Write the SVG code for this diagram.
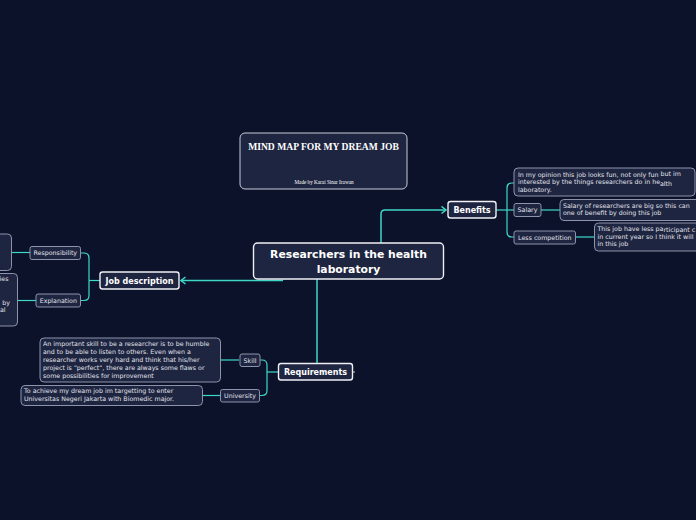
<svg xmlns="http://www.w3.org/2000/svg" width="696" height="520" viewBox="0 0 696 520">
<defs>
<style>
.bg{fill:#0b1229}
.main{fill:#1e2540;stroke:#f0f0f5;stroke-width:1.4}
.sub{fill:#1e2540;stroke:#8d93aa;stroke-width:1}
.title{fill:#1e2540;stroke:#c8ccd8;stroke-width:1}
.bt{font-family:"DejaVu Sans",Verdana,sans-serif;font-weight:bold;fill:#ffffff;text-anchor:middle}
.st{font-family:"DejaVu Sans",Verdana,sans-serif;font-size:6.3px;fill:#e2e4ec}
.lab{text-anchor:middle}
.con{fill:none;stroke:#3fd8c8;stroke-width:1.5}
.con2{fill:none;stroke:#3fd8c8;stroke-width:1.2}
.serif{font-family:"Liberation Serif","Times New Roman",serif;fill:#ffffff;text-anchor:middle}
</style>
<marker id="arr" markerUnits="userSpaceOnUse" markerWidth="8" markerHeight="10" refX="5.5" refY="4" orient="auto">
<path d="M1,0.5 L5.5,4 L1,7.5" fill="none" stroke="#3fd8c8" stroke-width="1.5"/>
</marker>
</defs>
<rect class="bg" x="0" y="0" width="696" height="520"/>

<g id="connectors">
<path class="con" d="M381,243 V214 Q381,210 385,210 H446" marker-end="url(#arr)"/>
<path class="con" d="M283,280.5 H181" marker-end="url(#arr)"/>
<path class="con" d="M317,279 V363"/>
<path class="con2" d="M496,210 H514"/>
<path class="con2" d="M507,210 V188 Q507,183 512,183 H514"/>
<path class="con2" d="M507,210 V232 Q507,237 512,237 H514"/>
<path class="con2" d="M541,210 H560"/>
<path class="con2" d="M575,237 H594"/>
<path class="con2" d="M100,280.5 H89"/>
<path class="con2" d="M89,280.5 V258 Q89,253 84,253 H81"/>
<path class="con2" d="M89,280.5 V295.5 Q89,300.5 84,300.5 H81"/>
<path class="con2" d="M30,252.5 H12"/>
<path class="con2" d="M36,300.5 H18"/>
<path class="con2" d="M278,372 H267"/>
<path class="con2" d="M267,372 V365 Q267,360 262,360 H260"/>
<path class="con2" d="M267,372 V390.5 Q267,395.5 262,395.5 H260"/>
<path class="con2" d="M239,360 H221"/>
<path class="con2" d="M220,395.5 H203"/>
<path d="M352.5,372 H355" stroke="#c8ccd8" stroke-width="1"/>
</g>

<g id="title">
<rect class="title" x="240" y="133" width="167" height="56" rx="5"/>
<text class="serif" x="323.5" y="150" font-size="9.6" font-weight="bold">MIND MAP FOR MY DREAM JOB</text>
<text class="serif" x="324" y="183.5" font-size="5.2">Made by Karai Sinar Irawan</text>
</g>

<g id="central">
<rect class="main" x="253.5" y="243" width="190" height="36" rx="4"/>
<text class="bt" x="348.5" y="258" font-size="10.8">Researchers in the health</text>
<text class="bt" x="348.5" y="272.5" font-size="10.8">laboratory</text>
</g>

<g id="benefits">
<rect class="main" x="448" y="201.5" width="48" height="16.5" rx="2.5"/>
<text class="bt" x="472" y="212.8" font-size="8">Benefits</text>
</g>

<g id="benefits-opinion">
<rect class="sub" x="514" y="168" width="181" height="28" rx="4"/>
<text class="st" x="518" y="176.5">In my opinion this job looks fun, not only fun <tspan dy="-0.8">but im</tspan></text>
<text class="st" x="518" y="184.3">interested by the things researchers do in he<tspan dy="1.2">alth</tspan></text>
<text class="st" x="518" y="192">laboratory.</text>
</g>

<g id="salary">
<rect class="sub" x="514" y="203.5" width="27" height="13" rx="2"/>
<text class="st lab" x="527.5" y="212.3">Salary</text>
</g>
<g id="salary-desc">
<rect class="sub" x="560" y="199.5" width="150" height="21" rx="4"/>
<text class="st" x="563" y="207.5">Salary of researchers are big so this can</text>
<text class="st" x="563" y="215.3">one of benefit by doing this job</text>
</g>

<g id="less-competition">
<rect class="sub" x="514" y="231" width="61.5" height="13" rx="2"/>
<text class="st lab" x="544.8" y="239.8">Less competition</text>
</g>
<g id="less-desc">
<rect class="sub" x="594.5" y="223" width="120" height="28" rx="4"/>
<text class="st" x="597.5" y="230.7">This job have less pa<tspan dy="0.8">rticipant c</tspan></text>
<text class="st" x="597.5" y="238.5">in current year so I <tspan dy="0.8">think it will</tspan></text>
<text class="st" x="597.5" y="246.3">in this job</text>
</g>

<g id="job-description">
<rect class="main" x="100" y="272" width="79" height="17" rx="2.5"/>
<text class="bt" x="139.5" y="283.5" font-size="8">Job description</text>
</g>

<g id="responsibility">
<rect class="sub" x="30" y="246.5" width="50.5" height="13" rx="2"/>
<text class="st lab" x="55.3" y="255.2">Responsibility</text>
</g>
<g id="responsibility-desc">
<rect class="sub" x="-20" y="234" width="31.5" height="36.5" rx="4"/>
</g>

<g id="explanation">
<rect class="sub" x="36" y="294" width="44.5" height="13" rx="2"/>
<text class="st lab" x="58.3" y="302.8">Explanation</text>
</g>
<g id="explanation-desc">
<rect class="sub" x="-20" y="273.5" width="37.5" height="52.5" rx="4"/>
<text class="st" x="8.5" y="281" text-anchor="end">ies</text>
<text class="st" x="10" y="304.5" text-anchor="end">by</text>
<text class="st" x="5.5" y="312.3" text-anchor="end">al</text>
</g>

<g id="requirements">
<rect class="main" x="278.5" y="363.5" width="74" height="16.5" rx="2.5"/>
<text class="bt" x="315.5" y="375" font-size="8">Requirements</text>
</g>

<g id="skill">
<rect class="sub" x="240" y="354" width="20" height="12.5" rx="2"/>
<text class="st lab" x="250" y="362.7">Skill</text>
</g>
<g id="skill-desc">
<rect class="sub" x="40" y="338" width="180.5" height="44" rx="4"/>
<text class="st" x="43" y="346.3">An important skill to be a researcher is to be humble</text>
<text class="st" x="43" y="354.2">and to be able to listen to others. Even when a</text>
<text class="st" x="43" y="362.1">researcher works very hard and think that his/her</text>
<text class="st" x="43" y="370">project is "perfect", there are always some flaws or</text>
<text class="st" x="43" y="377.9">some possibilities for improvement</text>
</g>

<g id="university">
<rect class="sub" x="220.5" y="389.5" width="39" height="12.5" rx="2"/>
<text class="st lab" x="240" y="398.2">University</text>
</g>
<g id="university-desc">
<rect class="sub" x="21" y="385.5" width="181.5" height="20" rx="4"/>
<text class="st" x="24" y="393">To achieve my dream job im targetting to enter</text>
<text class="st" x="24" y="400.8">Universitas Negeri Jakarta with Biomedic major.</text>
</g>
</svg>
